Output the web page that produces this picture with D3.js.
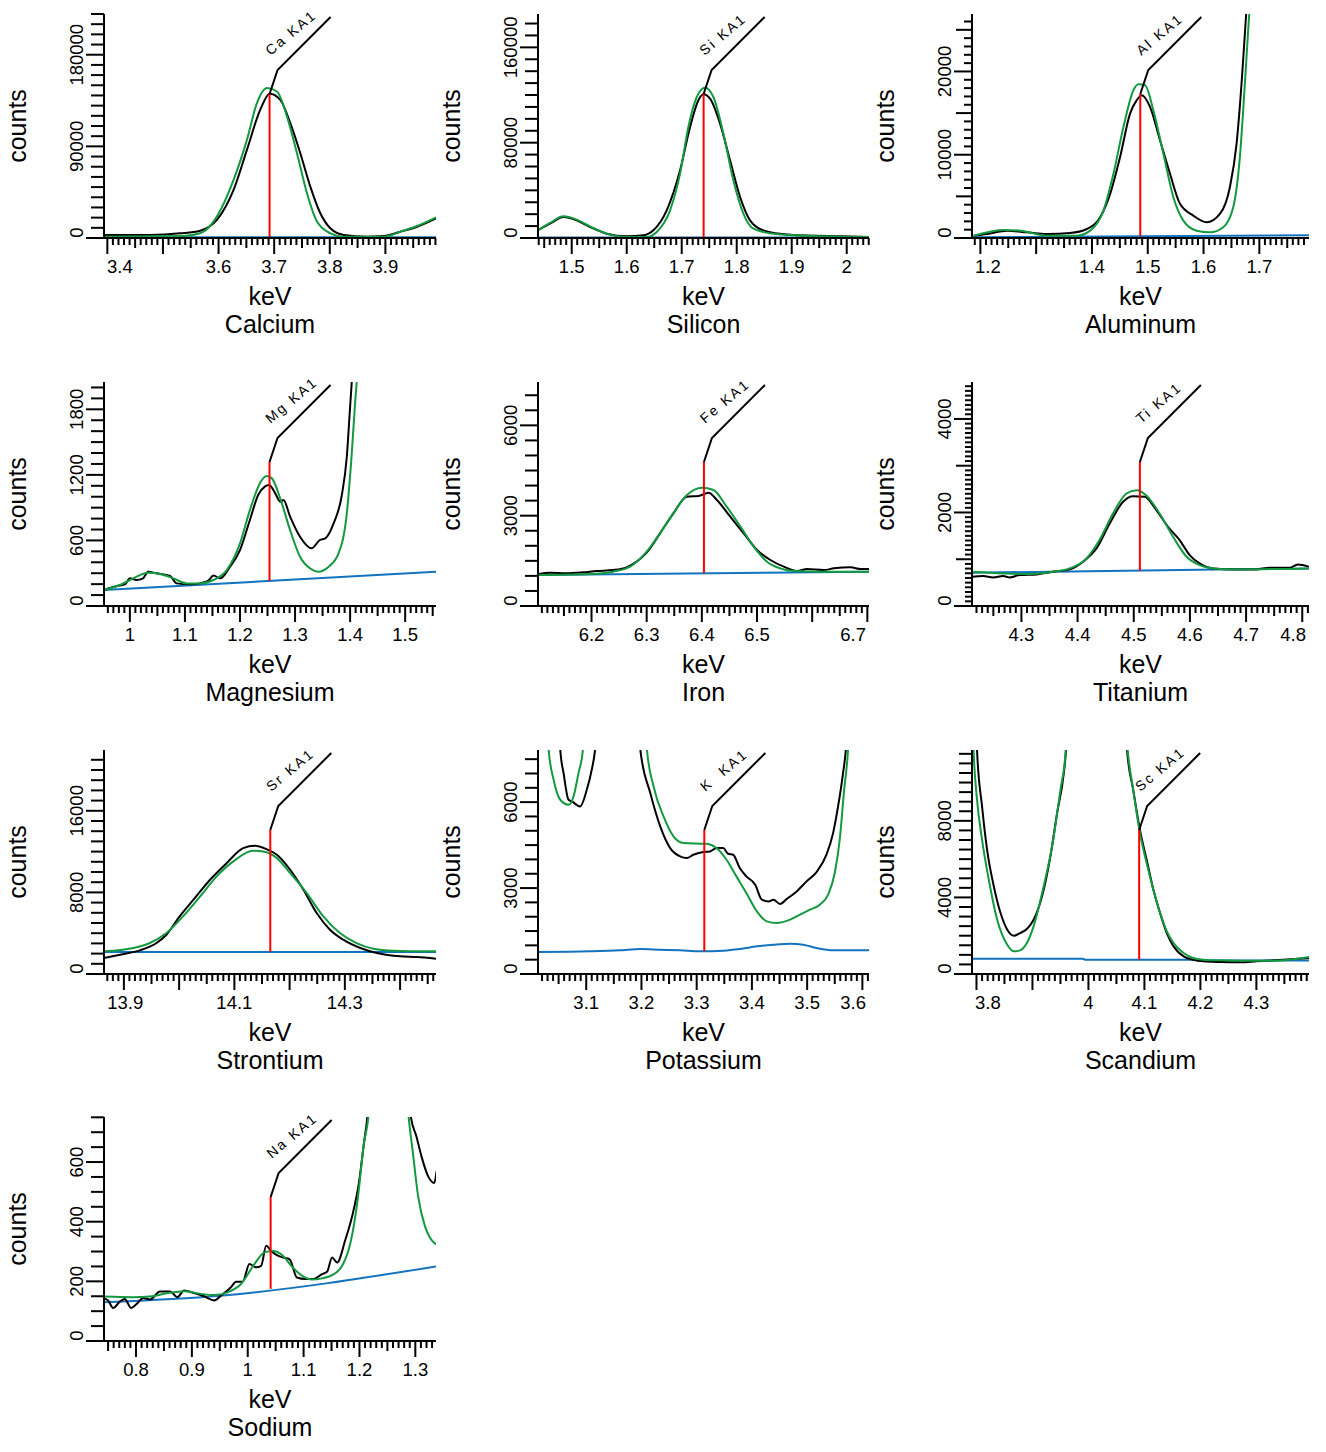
<!DOCTYPE html>
<meta charset="utf-8">
<style>
body {
  margin: 0;
  background: #fff;
}
svg text {
  font-family: "Liberation Sans", Arial, sans-serif;
  fill: #000;
}
.tick-label { font-size: 18.5px; }
.axis-title { font-size: 25px; }
.tag-label { font-size: 14px; letter-spacing: 2.2px; white-space: pre; }
.curve { fill: none; stroke-width: 2px; }
</style>
<body>
<svg width="1326" height="1452"></svg>
<script src="https://cdn.jsdelivr.net/npm/d3@7/dist/d3.min.js"></script>
<script>

// ---- data (keV, counts) ----

var caMeasured = [[3.394,2900],[3.477,2950],[3.531,4600],[3.567,7200],[3.597,17700],[3.627,47200],[3.651,86600],[3.675,126000],[3.692,141700],[3.711,135700],[3.729,112800],[3.747,83300],[3.765,50500],[3.783,24300],[3.801,9500],[3.825,2950],[3.867,1300],[3.897,2000],[3.927,6200],[3.957,11100],[3.991,19300]];
var caFit = [[3.394,1300],[3.537,2000],[3.567,4600],[3.597,21000],[3.627,57000],[3.651,96400],[3.669,132500],[3.687,147200],[3.705,143900],[3.723,119400],[3.741,83300],[3.759,43900],[3.777,16100],[3.801,4600],[3.825,1300],[3.897,1300],[3.927,6200],[3.957,11800],[3.991,20300]];
var caBackground = [[3.394,700],[3.991,700]];

var siMeasured = [[1.4406,7000],[1.4606,12030],[1.4848,17630],[1.5091,14830],[1.5333,9230],[1.5636,3640],[1.6,1400],[1.6303,2240],[1.6485,6440],[1.6727,23220],[1.697,56800],[1.7152,93170],[1.7303,115560],[1.7394,120590],[1.7515,116960],[1.7697,95970],[1.7879,65190],[1.8061,34420],[1.8242,14830],[1.8485,6440],[1.897,2800],[1.9879,1400],[2.0405,840]];
var siFit = [[1.4387,6500],[1.4606,12590],[1.4848,18190],[1.5091,15390],[1.5333,9790],[1.5636,3640],[1.6,840],[1.6364,840],[1.6545,5040],[1.6788,23220],[1.697,54000],[1.7121,93170],[1.7273,118350],[1.7424,126190],[1.7576,118350],[1.7758,87580],[1.7939,48410],[1.8121,20430],[1.8303,7830],[1.8667,3640],[1.9273,1960],[2.0405,840]];
var siBackground = [[1.4387,500],[2.0405,500]];

var alMeasured = [[1.1881,280],[1.2119,480],[1.2477,880],[1.2835,680],[1.3193,480],[1.361,600],[1.3908,1080],[1.4147,2490],[1.4326,5300],[1.4504,9720],[1.4683,14940],[1.4803,16550],[1.4892,17150],[1.5041,15740],[1.522,11730],[1.5399,7710],[1.5578,4100],[1.5816,2690],[1.6055,1890],[1.6293,2890],[1.6472,6100],[1.6592,11330],[1.6681,18550],[1.6741,24580],[1.680,30600]];
var alFit = [[1.1881,280],[1.2417,960],[1.2716,880],[1.3193,280],[1.3729,280],[1.3968,880],[1.4206,3290],[1.4385,7710],[1.4564,13330],[1.4743,17750],[1.4832,18470],[1.4952,18350],[1.51,15340],[1.528,10120],[1.5459,4900],[1.5638,2090],[1.5876,880],[1.6115,680],[1.6353,1290],[1.6532,3690],[1.6651,9720],[1.6741,18550],[1.68,24980],[1.686,31000]];
var alBackground = [[1.185,80],[1.789,320]];

var mgMeasured = [[0.953,146],[0.976,183],[0.991,198],[1.0,253],[1.012,238],[1.024,253],[1.033,314],[1.048,299],[1.073,275],[1.085,207],[1.109,198],[1.127,207],[1.142,229],[1.152,278],[1.164,253],[1.182,360],[1.2,512],[1.218,787],[1.233,1016],[1.245,1092],[1.253,1107],[1.264,1031],[1.273,955],[1.279,970],[1.291,817],[1.309,634],[1.330,528],[1.345,604],[1.355,619],[1.370,756],[1.385,1016],[1.394,1366],[1.400,1824],[1.405,2200]];
var mgFit = [[0.953,146],[0.982,192],[1.006,253],[1.033,305],[1.055,293],[1.079,253],[1.103,207],[1.127,207],[1.152,238],[1.176,329],[1.2,573],[1.218,878],[1.236,1122],[1.248,1190],[1.258,1168],[1.273,985],[1.291,695],[1.309,451],[1.327,345],[1.342,314],[1.361,360],[1.379,482],[1.394,848],[1.403,1397],[1.409,1854],[1.415,2250]];
var mgBackground = [[0.953,146],[1.556,314]];

var feMeasured = [[6.1042,1063],[6.1242,1107],[6.1545,1085],[6.1848,1118],[6.2091,1162],[6.2394,1196],[6.2636,1284],[6.2818,1472],[6.3,1771],[6.3242,2413],[6.3485,3077],[6.3727,3631],[6.3939,3653],[6.4121,3764],[6.4273,3520],[6.4515,2967],[6.4758,2413],[6.5,1860],[6.5242,1528],[6.5485,1306],[6.5727,1162],[6.5909,1229],[6.6212,1196],[6.6394,1251],[6.6697,1284],[6.6879,1229],[6.703,1229]];
var feFit = [[6.104,1030],[6.197,1063],[6.239,1140],[6.27,1306],[6.3,1804],[6.324,2413],[6.348,3077],[6.373,3686],[6.4,3930],[6.421,3852],[6.445,3300],[6.47,2635],[6.494,1970],[6.518,1472],[6.542,1251],[6.567,1162],[6.621,1140],[6.703,1140]];
var feBackground = [[6.103,1030],[6.703,1140]];

var tiMeasured = [[4.2122,626],[4.2318,640],[4.2496,612],[4.2674,640],[4.2792,612],[4.297,662],[4.3267,676],[4.3563,733],[4.386,783],[4.4097,947],[4.4335,1231],[4.4572,1765],[4.4809,2228],[4.4987,2349],[4.5195,2335],[4.5402,2050],[4.561,1694],[4.5817,1409],[4.5995,1089],[4.6173,911],[4.641,804],[4.6826,783],[4.7181,783],[4.7419,818],[4.7775,818],[4.7923,890],[4.8119,840]];
var tiFit = [[4.212,733],[4.267,697],[4.309,683],[4.356,733],[4.386,804],[4.416,1018],[4.439,1409],[4.463,1978],[4.487,2405],[4.505,2477],[4.522,2370],[4.546,1978],[4.57,1480],[4.594,1053],[4.617,875],[4.641,804],[4.683,783],[4.812,804]];
var tiBackground = [[4.212,712],[4.812,804]];

var srMeasured = [[13.864,1567],[13.893,1894],[13.929,2318],[13.959,3036],[13.977,3853],[14.001,5648],[14.026,7281],[14.056,9240],[14.086,10872],[14.116,12342],[14.137,12570],[14.158,12244],[14.177,11689],[14.201,10219],[14.225,8260],[14.249,5975],[14.273,4342],[14.297,3363],[14.328,2547],[14.358,2057],[14.4,1730],[14.43,1665],[14.465,1502]];
var srFit = [[13.864,2220],[13.917,2547],[13.947,3036],[13.977,4016],[14.007,5648],[14.038,7607],[14.068,9566],[14.098,11036],[14.134,12080],[14.152,12015],[14.177,11362],[14.201,9893],[14.231,7934],[14.261,5648],[14.291,4016],[14.321,3036],[14.352,2481],[14.388,2285],[14.465,2220]];
var srBackground = [[13.864,2155],[14.465,2155]];

var kMeasured = [[3.047,10500],[3.053,7827],[3.059,7013],[3.068,6083],[3.074,6024],[3.089,5850],[3.101,6431],[3.11,7129],[3.116,7827],[3.125,10500],[3.189,10500],[3.198,7827],[3.216,6315],[3.234,5152],[3.252,4396],[3.27,4105],[3.282,4047],[3.294,4164],[3.312,4256],[3.324,4280],[3.336,4396],[3.348,4396],[3.357,4198],[3.366,4164],[3.378,3698],[3.39,3408],[3.406,3117],[3.418,2593],[3.43,2535],[3.439,2593],[3.451,2442],[3.463,2617],[3.481,2884],[3.499,3233],[3.517,3559],[3.535,4164],[3.547,4919],[3.556,5850],[3.565,7013],[3.570,7827],[3.577,10500]];
var kFit = [[3.028,10500],[3.032,7827],[3.041,6780],[3.053,6083],[3.068,5908],[3.077,6199],[3.086,7013],[3.094,7827],[3.101,10500],[3.204,10500],[3.21,7827],[3.222,6547],[3.24,5500],[3.258,4803],[3.276,4570],[3.318,4547],[3.336,4396],[3.354,3989],[3.372,3408],[3.39,2826],[3.409,2186],[3.427,1838],[3.445,1779],[3.469,1896],[3.487,2070],[3.505,2244],[3.523,2419],[3.538,2768],[3.55,3524],[3.559,4687],[3.567,6431],[3.574,7827],[3.58,10500]];
var kBackground = [[3.0127,768],[3.107,791],[3.161,826],[3.198,872],[3.234,849],[3.27,826],[3.306,791],[3.348,814],[3.378,872],[3.409,965],[3.439,1023],[3.469,1058],[3.493,1023],[3.517,907],[3.547,826],[3.612,826]];

var scMeasured = [[3.798,14800],[3.801,11700],[3.81,8747],[3.819,6487],[3.831,4574],[3.843,3183],[3.855,2313],[3.867,2000],[3.878,2139],[3.89,2348],[3.902,2835],[3.917,4052],[3.932,6139],[3.944,8400],[3.956,10487],[3.96,11700],[3.965,14800],[4.063,14800],[4.069,11700],[4.08,9617],[4.092,7530],[4.104,5965],[4.116,4400],[4.128,3183],[4.14,2139],[4.152,1443],[4.17,922],[4.187,748],[4.205,661],[4.235,626],[4.271,609],[4.3,661],[4.348,748],[4.394,835]];
var scFit = [[3.792,14000],[3.795,11530],[3.801,9095],[3.81,7008],[3.822,4922],[3.837,2835],[3.855,1530],[3.867,1183],[3.878,1235],[3.89,1617],[3.902,2487],[3.92,4574],[3.935,6660],[3.95,9617],[3.959,11530],[3.963,14000],[4.064,14000],[4.07,11700],[4.08,9617],[4.092,7356],[4.104,5791],[4.116,4400],[4.128,3183],[4.14,2226],[4.152,1617],[4.17,1096],[4.187,835],[4.205,748],[4.235,713],[4.271,696],[4.324,696],[4.36,748],[4.394,887]];
var scBackground = [[3.792,800],[3.99,800],[3.994,750],[4.19,750],[4.196,700],[4.394,700]];

var naMeasured = [[0.7427,143],[0.75,136],[0.759,111],[0.771,132],[0.78,141],[0.791,111],[0.801,124],[0.813,144],[0.825,139],[0.843,166],[0.861,166],[0.874,147],[0.886,169],[0.904,161],[0.922,150],[0.94,136],[0.952,152],[0.97,180],[0.979,199],[0.991,199],[1.003,258],[1.015,247],[1.024,252],[1.033,319],[1.042,302],[1.054,286],[1.063,280],[1.075,274],[1.088,213],[1.103,208],[1.118,208],[1.133,224],[1.142,232],[1.151,280],[1.16,263],[1.175,341],[1.187,419],[1.199,530],[1.208,663],[1.214,752],[1.22,940],[1.286,940],[1.292,752],[1.302,686],[1.311,619],[1.323,552],[1.334,530],[1.338,569]];
var naFit = [[0.743,149],[0.795,147],[0.825,149],[0.855,160],[0.886,167],[0.916,158],[0.94,154],[0.964,163],[0.988,191],[1.012,258],[1.03,297],[1.045,302],[1.063,286],[1.078,252],[1.097,219],[1.115,206],[1.133,210],[1.151,221],[1.169,252],[1.184,330],[1.196,463],[1.208,663],[1.216,752],[1.223,940],[1.28,940],[1.288,752],[1.295,641],[1.305,486],[1.317,386],[1.326,347],[1.337,324]];
var naBackground = [[0.743,130],[0.95,152],[1.337,250]];

// element names, line labels and line energies (keV)
var elementNames = ["Calcium", "Silicon", "Aluminum", "Magnesium", "Iron", "Titanium", "Strontium", "Potassium", "Scandium", "Sodium"];
var lineLabels = ["Ca KA1", "Si KA1", "Al KA1", "Mg KA1", "Fe KA1", "Ti KA1", "Sr KA1", "K  KA1", "Sc KA1", "Na KA1"];
var lineEnergies = [3.6917, 1.7398, 1.4866, 1.2536, 6.4038, 4.5109, 14.165, 3.3138, 4.0906, 1.0410];

// axis ranges and labelled ticks
var xDomains = [[3.394,3.991],[1.4387,2.0405],[1.185,1.789],[0.953,1.556],[6.103,6.703],[4.212,4.812],[13.864,14.465],[3.0127,3.612],[3.792,4.394],[0.7427,1.337]];
var yDomains = [[0,220000],[0,188000],[0,26900],[0,2050],[0,7440],[0,4790],[0,21960],[0,7820],[0,11700],[0,751]];
var xTickLabels = [
  [3.4,3.6,3.7,3.8,3.9], [1.5,1.6,1.7,1.8,1.9,2], [1.2,1.4,1.5,1.6,1.7],
  [1,1.1,1.2,1.3,1.4,1.5], [6.2,6.3,6.4,6.5,6.7], [4.3,4.4,4.5,4.6,4.7,4.8],
  [13.9,14.1,14.3], [3.1,3.2,3.3,3.4,3.5,3.6], [3.8,4,4.1,4.2,4.3],
  [0.8,0.9,1,1.1,1.2,1.3]
];
var yTickLabels = [
  [0,90000,180000], [0,80000,160000], [0,10000,20000],
  [0,600,1200,1800], [0,3000,6000], [0,2000,4000],
  [0,8000,16000], [0,3000,6000], [0,4000,8000],
  [0,200,400,600]
];
var yMinorSteps = [10000, 10000, 1000, 100, 500, 100, 1000, 500, 500, 50];
var yMidSteps = [0, 0, 5000, 0, 0, 1000, 0, 0, 0, 0];

var measured = [caMeasured, siMeasured, alMeasured, mgMeasured, feMeasured, tiMeasured, srMeasured, kMeasured, scMeasured, naMeasured];
var fits = [caFit, siFit, alFit, mgFit, feFit, tiFit, srFit, kFit, scFit, naFit];
var backgrounds = [caBackground, siBackground, alBackground, mgBackground, feBackground, tiBackground, srBackground, kBackground, scBackground, naBackground];

// ---- layout ----
var svg = d3.select("svg"),
    colLeft = [104, 538, 972],
    colRight = [436, 869, 1309],
    rowTop = [14, 382, 750, 1117],
    plotH = 224;

var colors = {measured: "#000000", fit: "#13993f", background: "#1273bf", marker: "#ff0000"};

function interpAt(pts, v) {
  var i = d3.bisector(function(d) { return d[0]; }).left(pts, v);
  if (i <= 0) return pts[0][1];
  if (i >= pts.length) return pts[pts.length - 1][1];
  var a = pts[i - 1], b = pts[i], t = (v - a[0]) / (b[0] - a[0]);
  return a[1] + t * (b[1] - a[1]);
}

elementNames.forEach(function(name, i) {
  var left = colLeft[i % 3],
      right = colRight[i % 3],
      top = rowTop[Math.floor(i / 3)],
      bottom = top + plotH;

  var x = d3.scaleLinear().domain(xDomains[i]).range([left, right]),
      y = d3.scaleLinear().domain(yDomains[i]).range([bottom, top]);

  var g = svg.append("g").attr("class", "panel");

  g.append("clipPath").attr("id", "clip" + i)
    .append("rect")
      .attr("x", left).attr("y", top)
      .attr("width", right - left).attr("height", plotH);

  var line = d3.line()
      .curve(d3.curveMonotoneX)
      .x(function(d) { return x(d[0]); })
      .y(function(d) { return y(d[1]); });

  var plot = g.append("g").attr("clip-path", "url(#clip" + i + ")");

  plot.append("path").attr("class", "curve")
      .attr("d", line(backgrounds[i])).style("stroke", colors.background);
  plot.append("path").attr("class", "curve")
      .attr("d", line(measured[i])).style("stroke", colors.measured);
  plot.append("path").attr("class", "curve")
      .attr("d", line(fits[i])).style("stroke", colors.fit);

  // line marker + tag
  var xr = x(lineEnergies[i]);
  g.append("line")
      .attr("x1", xr).attr("x2", xr)
      .attr("y1", y(interpAt(backgrounds[i], lineEnergies[i])))
      .attr("y2", top + 80)
      .style("stroke", colors.marker).style("stroke-width", 2);
  g.append("path")
      .attr("d", "M" + xr + "," + (top + 80) + "L" + (xr + 8) + "," + (top + 56) + "L" + (xr + 61) + "," + (top + 3))
      .style("fill", "none").style("stroke", "#000").style("stroke-width", 2);
  g.append("text")
      .attr("class", "tag-label")
      .attr("transform", "translate(" + (xr + 1) + "," + (top + 42) + ") rotate(-40)")
      .text(lineLabels[i]);

  // axes
  var ax = g.append("g").style("stroke", "#000").style("stroke-width", 2);
  ax.append("line").attr("x1", left).attr("x2", left).attr("y1", top).attr("y2", bottom);
  ax.append("line").attr("x1", left - 18).attr("x2", right).attr("y1", bottom).attr("y2", bottom);

  // x ticks, 0.01 keV apart
  var k0 = Math.ceil(xDomains[i][0] * 100 - 1e-6), k1 = Math.floor(xDomains[i][1] * 100 + 1e-6);
  for (var k = k0; k <= k1; k++) {
    var len = k % 10 === 0 ? 16 : (k % 5 === 0 ? 10 : 7);
    ax.append("line").attr("x1", x(k / 100)).attr("x2", x(k / 100))
      .attr("y1", bottom).attr("y2", bottom + len);
  }

  // y ticks
  var step = yMinorSteps[i], yMax = yDomains[i][1];
  for (var v = step; v <= yMax + 1e-6; v += step) {
    var major = yTickLabels[i].indexOf(v) >= 0,
        mid = yMidSteps[i] && (v % yMidSteps[i] === 0),
        small = step === 100 && i === 5 ? 7 : (i === 2 ? 8 : 13);
    var l = major ? 18 : (mid ? 16 : small);
    ax.append("line").attr("x1", left - l).attr("x2", left)
      .attr("y1", y(v)).attr("y2", y(v));
  }

  // x tick labels, kept inside the axis span
  xTickLabels[i].forEach(function(t) {
    var s = String(t),
        hw = s.length * 5.3,
        px = Math.max(left + hw, Math.min(right - hw, x(t)));
    g.append("text").attr("class", "tick-label")
      .attr("x", px).attr("y", bottom + 35)
      .attr("text-anchor", "middle")
      .text(s);
  });

  // y tick labels, rotated
  yTickLabels[i].forEach(function(t) {
    var s = String(t),
        hw = s.length * 5.3,
        py = Math.max(top + hw, Math.min(bottom - hw, y(t)));
    g.append("text").attr("class", "tick-label")
      .attr("transform", "translate(" + (left - 21) + "," + py + ") rotate(-90)")
      .attr("text-anchor", "middle")
      .text(s);
  });

  var cx = (left + right) / 2;
  g.append("text").attr("class", "axis-title")
    .attr("transform", "translate(" + (left - 78) + "," + (top + plotH / 2) + ") rotate(-90)")
    .attr("text-anchor", "middle").text("counts");
  g.append("text").attr("class", "axis-title")
    .attr("x", cx).attr("y", bottom + 67)
    .attr("text-anchor", "middle").text("keV");
  g.append("text").attr("class", "axis-title")
    .attr("x", cx).attr("y", bottom + 95)
    .attr("text-anchor", "middle").text(name);
});

</script>
</body>
